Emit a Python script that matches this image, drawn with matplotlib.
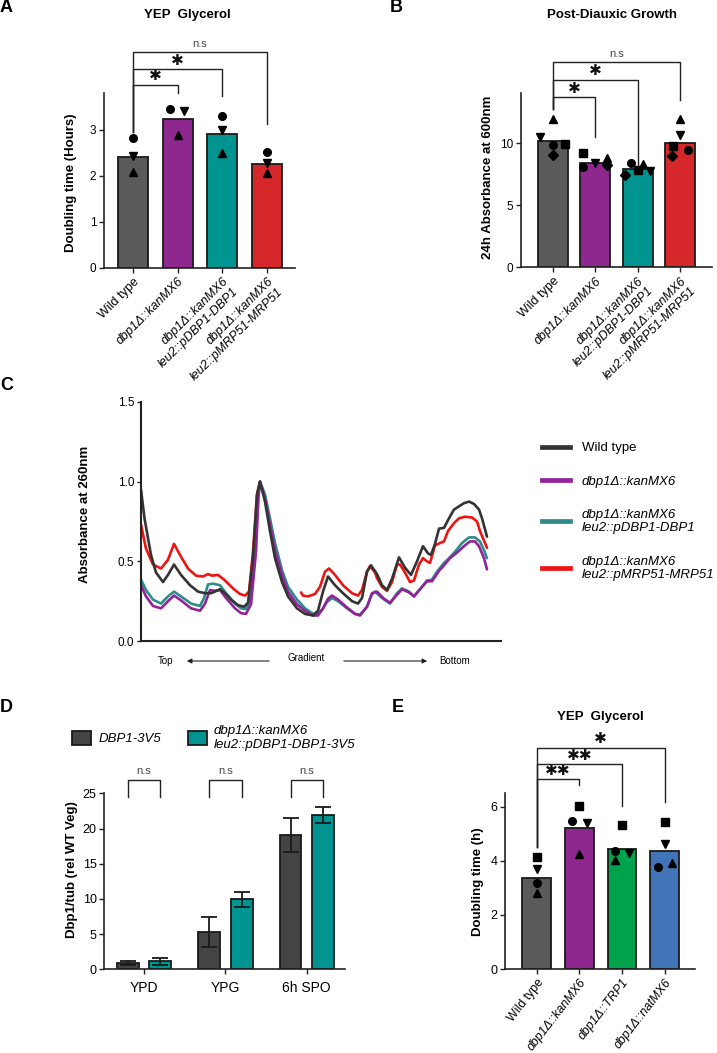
import numpy as np
import matplotlib
matplotlib.use("Agg")
import matplotlib.pyplot as plt
from matplotlib.lines import Line2D
from matplotlib.patches import FancyArrowPatch

plt.rcParams['font.family'] = ['Liberation Sans', 'DejaVu Sans']

# ---------------- data ----------------
# Panel A: YEP Glycerol doubling time (hours)
A_categories = ["Wild type", "dbp1Δ::kanMX6", "dbp1Δ::kanMX6\nleu2::pDBP1-DBP1",
                "dbp1Δ::kanMX6\nleu2::pMRP51-MRP51"]
A_means = [2.41, 3.23, 2.90, 2.26]
A_markers = ['o', 'v', '^']
A_points = [[2.82, 2.43, 2.09],
            [3.46, 3.42, 2.89],
            [3.29, 3.00, 2.49],
            [2.51, 2.28, 2.06]]
A_sig = [(0, 1, "✱"), (0, 2, "✱"), (0, 3, "n.s")]

# Panel B: Post-diauxic growth (24h absorbance at 600nm)
B_categories = A_categories
B_means = [10.13, 8.42, 7.91, 10.02]
B_markers = ['^', 'v', 'o', 's', 'D']
B_points = [[11.95, 10.47, 9.81, 9.89, 9.00],
            [8.82, 8.39, 8.07, 9.22, 8.20],
            [8.34, 7.75, 8.42, 7.80, 7.40],
            [11.95, 10.67, 9.41, 9.75, 8.93]]
B_sig = [(0, 1, "✱"), (0, 2, "✱"), (0, 3, "n.s")]

# Panel C: polysome profiles (absorbance at 260nm along gradient)
C_labels = ["Wild type", "dbp1Δ::kanMX6", "dbp1Δ::kanMX6\nleu2::pDBP1-DBP1",
            "dbp1Δ::kanMX6\nleu2::pMRP51-MRP51"]
wt_pos = [0, 3.5, 10, 15, 22, 27, 33, 40, 49, 57, 64, 70, 74, 79, 84, 90, 97, 103, 107, 112,
          116, 119, 124, 129, 134, 141, 147, 156, 164, 172, 177, 182, 187, 194, 202, 211, 217, 221, 226, 230,
          236, 241, 246, 251, 258, 264, 270, 276, 282, 287, 290, 294, 298, 303, 308, 313, 318, 323, 328, 333,
          338, 341, 346]
wt_abs = [0.95, 0.77, 0.54, 0.43, 0.37, 0.415, 0.48, 0.415, 0.35, 0.31, 0.30, 0.30, 0.31, 0.325, 0.30, 0.26,
          0.225, 0.215, 0.24, 0.52, 0.92, 1.0, 0.875, 0.69, 0.52, 0.37, 0.28, 0.205, 0.17, 0.16, 0.19, 0.31,
          0.405, 0.35, 0.30, 0.25, 0.235, 0.27, 0.435, 0.475, 0.42, 0.35, 0.32, 0.39, 0.525, 0.46, 0.415, 0.50,
          0.595, 0.55, 0.54, 0.61, 0.705, 0.71, 0.77, 0.825, 0.845, 0.865, 0.875, 0.86, 0.825, 0.77, 0.655]
kan_pos = [0, 5, 12, 20, 27, 33, 40, 50, 59, 64, 69, 74, 79, 85, 94, 100, 105, 110, 115, 117.5,
           119, 124, 129, 134, 141, 147, 156, 164, 172, 177, 182, 187, 191, 197, 206, 214, 219, 226, 231, 236,
           243, 249, 256, 261, 268, 273, 279, 286, 291, 298, 303, 309, 316, 323, 329, 334, 338, 343, 346]
kan_abs = [0.35, 0.28, 0.22, 0.205, 0.25, 0.285, 0.255, 0.205, 0.19, 0.235, 0.32, 0.315, 0.32, 0.27, 0.205,
           0.175, 0.17, 0.23, 0.56, 0.90, 1.0, 0.895, 0.73, 0.57, 0.415, 0.31, 0.23, 0.19, 0.16, 0.16, 0.205,
           0.265, 0.285, 0.26, 0.21, 0.17, 0.16, 0.215, 0.30, 0.31, 0.265, 0.24, 0.29, 0.325, 0.305, 0.28, 0.325,
           0.375, 0.375, 0.44, 0.475, 0.52, 0.555, 0.595, 0.625, 0.625, 0.595, 0.52, 0.45]
dbp_pos = [0, 5, 12, 20, 27, 33, 40, 50, 59, 63, 67, 72, 79, 85, 94, 100, 105, 110, 114, 117,
           119, 124, 129, 134, 141, 147, 156, 164, 171, 176, 181, 186, 191, 197, 206, 214, 219, 226, 231, 234,
           241, 249, 256, 261, 268, 273, 279, 286, 291, 296, 303, 308, 314, 321, 328, 334, 339, 343, 346]
dbp_abs = [0.385, 0.32, 0.26, 0.235, 0.28, 0.31, 0.28, 0.235, 0.22, 0.27, 0.355, 0.36, 0.35, 0.30, 0.235,
           0.205, 0.20, 0.27, 0.62, 0.90, 1.0, 0.92, 0.77, 0.615, 0.445, 0.34, 0.26, 0.205, 0.175, 0.165, 0.195,
           0.245, 0.27, 0.25, 0.205, 0.17, 0.165, 0.215, 0.295, 0.31, 0.27, 0.235, 0.30, 0.33, 0.31, 0.28, 0.325,
           0.38, 0.385, 0.435, 0.49, 0.52, 0.56, 0.615, 0.65, 0.65, 0.625, 0.57, 0.52]
mrp_pos = [0, 5, 12, 20, 27, 33, 39, 47, 55, 62, 67, 71, 77, 84, 92, 99, 104, 108, 112, 116,
           119, 120, 160, 162, 167, 174, 179, 184, 188, 194, 202, 211, 217, 221, 226, 229, 234, 236, 241, 246,
           251, 256, 259, 264, 269, 273, 278, 282, 286, 289, 294, 299, 303, 307, 313, 318, 324, 331, 336, 339,
           343, 346]
mrp_abs = [0.73, 0.58, 0.48, 0.455, 0.51, 0.61, 0.54, 0.455, 0.41, 0.405, 0.42, 0.41, 0.415, 0.38, 0.33,
           0.295, 0.285, 0.31, 0.56, 0.92, 1.0, np.nan, 0.305, 0.285, 0.28, 0.295, 0.34, 0.435, 0.455, 0.415,
           0.35, 0.30, 0.285, 0.32, 0.435, 0.47, 0.43, 0.395, 0.34, 0.315, 0.37, 0.48, 0.48, 0.43, 0.37, 0.38,
           0.48, 0.52, 0.50, 0.49, 0.60, 0.615, 0.625, 0.69, 0.74, 0.77, 0.78, 0.775, 0.75, 0.69, 0.63, 0.585]

# Panel D: Dbp1/tub
D_groups = ["YPD", "YPG", "6h SPO"]
D_series = ["DBP1-3V5", "dbp1Δ::kanMX6\nleu2::pDBP1-DBP1-3V5"]
D_wt_mean = [0.9, 5.3, 19.1]
D_wt_err = [0.35, 2.1, 2.4]
D_comp_mean = [1.15, 9.95, 21.95]
D_comp_err = [0.5, 1.1, 1.1]

# Panel E: YEP Glycerol doubling time (h)
E_categories = ["Wild type", "dbp1Δ::kanMX6", "dbp1Δ::TRP1", "dbp1Δ::natMX6"]
E_means = [3.37, 5.22, 4.44, 4.37]
E_markers = ['s', 'v', 'o', '^']
E_points = [[4.13, 3.69, 3.19, 2.82],
            [6.03, 5.41, 5.47, 4.24],
            [5.32, 4.30, 4.36, 4.05],
            [5.42, 4.61, 3.78, 3.93]]
E_sig = [(0, 1, "✱✱"), (0, 2, "✱✱"), (0, 3, "✱")]

# ---------------- style ----------------
W, H = 717, 1053
GRAY, PURPLE, TEAL, RED = '#5a5a5a', '#8e288e', '#009490', '#d6282a'
GREEN, BLUE = '#00a24c', '#4274b8'
C_COLORS = ['#333333', '#93229a', '#2e8c88', '#ee1411']

fig = plt.figure(figsize=(W / 100, H / 100), dpi=100)


def rect(l, t, r, b):
    return [l / W, 1 - b / H, (r - l) / W, (b - t) / H]


def fpos(x, y):
    return (x / W, 1 - y / H)


def style(ax, ytick_size):
    for s in ['top', 'right']:
        ax.spines[s].set_visible(False)
    for s in ['left', 'bottom']:
        ax.spines[s].set_linewidth(1.2)
        ax.spines[s].set_color('#222222')
    ax.tick_params(length=3.5, width=1.0, pad=2, color='#222222')
    ax.tick_params(axis='y', labelsize=ytick_size)


def bar_panel(ax, cats, means, pts, markers, offsets, colors, width, rot, xsize):
    x = np.arange(len(cats))
    ax.bar(x, means, width=width, color=colors, edgecolor='#1a1a1a', linewidth=1.3, zorder=2)
    for i in range(len(cats)):
        for v, m, o in zip(pts[i], markers, offsets[i]):
            ax.plot(i + o, v, marker=m, color='black', ms=5.5, ls='none', zorder=3, clip_on=False)
    ax.set_xticks(x)
    ax.set_xticklabels(cats, rotation=rot, ha='right', va='top', rotation_mode='anchor', fontsize=xsize)
    for k, t in enumerate(ax.get_xticklabels()):
        t.set_multialignment('right')
        if k > 0:
            t.set_style('italic')


def brackets(ax, sigs, tops, rbots, lbot, star_size):
    for (i, j, lab), yt, yr in zip(sigs, tops, rbots):
        ax.plot([i, i, j, j], [lbot, yt, yt, yr], color='#222222', lw=1.0, clip_on=False, zorder=4)
        if lab == 'n.s':
            ax.annotate(lab, xy=((i + j) / 2, yt), xytext=(0, 2.5), textcoords='offset points',
                        ha='center', va='bottom', fontsize=8, color='#444444', annotation_clip=False)
        else:
            ax.annotate(lab, xy=((i + j) / 2, yt), xytext=(0, 1), textcoords='offset points',
                        ha='center', va='bottom', fontsize=star_size, color='#111111',
                        family='DejaVu Sans', annotation_clip=False)


# ---------------- Panel A ----------------
axA = fig.add_axes(rect(104, 93, 295, 268))
style(axA, 8.5)
A_offsets = [[0, 0, 0], [-0.16, 0.14, 0], [0, 0, 0], [0, 0, 0]]
bar_panel(axA, A_categories, A_means, A_points, A_markers, A_offsets, [GRAY, PURPLE, TEAL, RED], 0.67, 45, 9)
axA.set_xlim(-0.65, 3.63)
axA.set_ylim(0, 3.8)
axA.set_yticks([0, 1, 2, 3])
axA.set_ylabel("Doubling time (Hours)", fontsize=9.5, fontweight='bold', va='center')
axA.yaxis.set_label_coords(-0.175, 0.49)
brackets(axA, A_sig, [3.98, 4.32, 4.69], [3.80, 3.73, 3.13], 2.96, 11)
fig.text(*fpos(187, 15), "YEP  Glycerol", ha='center', va='center', fontsize=9.5, fontweight='bold')

# ---------------- Panel B ----------------
axB = fig.add_axes(rect(521, 93.3, 711.7, 267.3))
style(axB, 8.5)
B_offsets = [[0, -0.31, 0, 0.28, 0], [0.28, 0, -0.29, -0.29, 0.28], [0.13, 0.29, -0.15, 0, -0.29],
             [0, 0, 0.18, -0.16, -0.19]]
bar_panel(axB, B_categories, B_means, B_points, B_markers, B_offsets, [GRAY, PURPLE, TEAL, RED], 0.71, 45, 9)
axB.set_xlim(-0.76, 3.75)
axB.set_ylim(0, 14)
axB.set_yticks([0, 5, 10])
axB.set_ylabel("24h Absorbance at 600nm", fontsize=9.5, fontweight='bold', va='center')
axB.yaxis.set_label_coords(-0.175, 0.52)
brackets(axB, B_sig, [13.68, 15.1, 16.49], [10.47, 8.12, 13.5], 12.75, 11)
fig.text(*fpos(612, 15), "Post-Diauxic Growth", ha='center', va='center', fontsize=9.5, fontweight='bold')

# ---------------- Panel C ----------------
axC = fig.add_axes(rect(141, 402, 501, 641))
style(axC, 8.5)
axC.spines['bottom'].set_linewidth(1.5)
axC.spines['left'].set_linewidth(1.5)
series = [(mrp_pos, mrp_abs, 3), (dbp_pos, dbp_abs, 2), (kan_pos, kan_abs, 1), (wt_pos, wt_abs, 0)]
for xs, ys, ci in series:
    axC.plot(xs, ys, color=C_COLORS[ci], lw=1.9, solid_joinstyle='round', solid_capstyle='round')
handles_c = [Line2D([0], [0], color=c, lw=3.4) for c in C_COLORS]
axC.set_xlim(0, 360)
axC.set_ylim(0, 1.5)
axC.set_xticks([])
axC.set_yticks([0, 0.5, 1.0, 1.5])
axC.set_yticklabels(["0.0", "0.5", "1.0", "1.5"])
axC.tick_params(axis='y', length=3)
axC.set_ylabel("Absorbance at 260nm", fontsize=9.5, fontweight='bold', va='center')
axC.yaxis.set_label_coords(-0.156, 0.53)
legC = axC.legend(handles_c, C_labels, loc='upper left', bbox_to_anchor=fpos(542, 442),
                  bbox_transform=fig.transFigure, frameon=False, fontsize=9.5, handlelength=2.1,
                  handletextpad=0.9, labelspacing=1.6, borderpad=0, borderaxespad=0)
for k, t in enumerate(legC.get_texts()):
    if k > 0:
        t.set_style('italic')
# gradient annotation
fig.text(*fpos(166, 661), "Top", ha='center', va='center', fontsize=7)
fig.text(*fpos(306, 658), "Gradient", ha='center', va='center', fontsize=7)
fig.text(*fpos(455, 661), "Bottom", ha='center', va='center', fontsize=7)
fig.add_artist(FancyArrowPatch(fpos(272, 661), fpos(184, 661), transform=fig.transFigure,
                               arrowstyle='-|>', mutation_scale=7, lw=0.8, color='#222222'))
fig.add_artist(FancyArrowPatch(fpos(341, 661), fpos(430, 661), transform=fig.transFigure,
                               arrowstyle='-|>', mutation_scale=7, lw=0.8, color='#222222'))

# ---------------- Panel D ----------------
axD = fig.add_axes(rect(104.3, 793.3, 345, 969.3))
style(axD, 9)
xg = np.arange(len(D_groups))
bw = 0.27
ekw = dict(ecolor='#1a1a1a', elinewidth=1.3, capsize=5.5, capthick=1.3)
b1 = axD.bar(xg - 0.2, D_wt_mean, bw, yerr=D_wt_err, color='#444444', edgecolor='#1a1a1a', lw=1.3,
             error_kw=ekw, label=D_series[0], zorder=2)
b2 = axD.bar(xg + 0.2, D_comp_mean, bw, yerr=D_comp_err, color=TEAL, edgecolor='#1a1a1a', lw=1.3,
             error_kw=ekw, label=D_series[1], zorder=2)
axD.set_xticks(xg)
axD.set_xticklabels(D_groups, fontsize=10)
axD.tick_params(axis='x', pad=5)
axD.set_xlim(-0.49, 2.47)
axD.set_ylim(0, 25)
axD.set_yticks([0, 5, 10, 15, 20, 25])
axD.set_ylabel("Dbp1/tub (rel WT Veg)", fontsize=9.5, fontweight='bold', va='center')
axD.yaxis.set_label_coords(-0.136, 0.564)
for g in xg:
    axD.plot([g - 0.2, g - 0.2, g + 0.2, g + 0.2], [24.5, 26.9, 26.9, 24.5], color='#222222', lw=1.0,
             clip_on=False)
    axD.annotate("n.s", xy=(g, 26.9), xytext=(0, 2.5), textcoords='offset points', ha='center',
                 va='bottom', fontsize=8, color='#444444', annotation_clip=False)
legD = axD.legend(handles=[b1, b2], loc='upper left', bbox_to_anchor=fpos(72, 725),
                  bbox_transform=fig.transFigure, ncol=2, frameon=False, fontsize=9.5,
                  handlelength=1.45, handleheight=1.2, handletextpad=0.55, columnspacing=2.0,
                  borderpad=0, borderaxespad=0)
for t in legD.get_texts():
    t.set_style('italic')

# ---------------- Panel E ----------------
axE = fig.add_axes(rect(505, 793.3, 695, 969))
style(axE, 9)
E_offsets = [[0, 0, 0, 0], [0, 0.17, -0.17, 0], [0, 0.16, -0.17, -0.17], [0, 0, -0.16, 0.18]]
bar_panel(axE, E_categories, E_means, E_points, E_markers, E_offsets, [GRAY, PURPLE, GREEN, BLUE], 0.67, 52, 8.8)
axE.set_xlim(-0.74, 3.71)
axE.set_ylim(0, 6.5)
axE.set_yticks([0, 2, 4, 6])
axE.set_ylabel("Doubling time (h)", fontsize=9.5, fontweight='bold', va='center')
axE.yaxis.set_label_coords(-0.142, 0.497)
brackets(axE, E_sig, [7.02, 7.57, 8.18], [6.80, 6.04, 6.18], 4.52, 11)
fig.text(*fpos(600, 717), "YEP  Glycerol", ha='center', va='center', fontsize=9.5, fontweight='bold')

# panel letters
for lab, (x, y) in {"A": (0, 8), "B": (390, 8), "C": (0, 386), "D": (0, 708), "E": (392, 708)}.items():
    fig.text(*fpos(x, y), lab, ha='left', va='center', fontsize=13, fontweight='bold')

fig.savefig("out.png", dpi=100)
